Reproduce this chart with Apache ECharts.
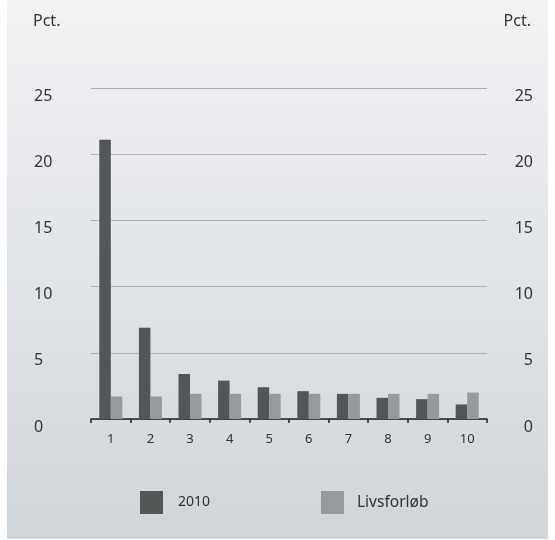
<!DOCTYPE html>
<html>
<head>
<meta charset="utf-8">
<script src="https://cdn.jsdelivr.net/npm/echarts@6/dist/echarts.min.js"></script>
<style>
html,body{margin:0;padding:0;background:#ffffff;}
#chart{width:555px;height:540px;}
</style>
</head>
<body>
<div id="chart"></div>
<script>
var categories = ['1','2','3','4','5','6','7','8','9','10'];
var series2010 = [21.1, 6.9, 3.4, 2.9, 2.4, 2.1, 1.9, 1.6, 1.5, 1.1];
var seriesLivsforlob = [1.7, 1.7, 1.9, 1.9, 1.9, 1.9, 1.9, 1.9, 1.9, 2.0];
var seriesNames = ['2010', 'Livsforløb'];
var yUnit = 'Pct.';

var FONT = '"Noto Sans", sans-serif';
var TXT = '#333333';

var chart = echarts.init(document.getElementById('chart'), null, {renderer:'canvas'});
var yLabelCommon = {
  fontFamily: FONT, fontSize: 16, color: TXT,
  verticalAlign: 'top'
};
chart.setOption({
  animation: false,
  graphic: [
    {type:'rect', z:-10, silent:true,
     shape:{x:7, y:0, width:541, height:539},
     style:{fill: new echarts.graphic.LinearGradient(0,0,0,1,[
       {offset:0, color:'#f2f3f5'},{offset:1, color:'#d0d5da'}])}},
    {type:'text', left:33, top:13, style:{text:yUnit, font:'16px "Noto Sans", sans-serif', fill:TXT}},
    {type:'text', right:24, top:13, style:{text:yUnit, font:'16px "Noto Sans", sans-serif', fill:TXT}}
  ],
  grid: {left:91, right:68, top:88, bottom:121},
  legend: [
    {data:[seriesNames[0]], left:135, top:486, itemWidth:23, itemHeight:23, icon:'rect',
     textStyle:{fontFamily:FONT, fontSize:14, color:TXT, padding:[0,0,0,10]}},
    {data:[seriesNames[1]], left:316, top:486, itemWidth:23, itemHeight:23, icon:'rect',
     textStyle:{fontFamily:FONT, fontSize:15.5, color:TXT, padding:[0,0,0,8]}}
  ],
  xAxis: {
    type:'category', data:categories, boundaryGap:true,
    axisLine:{show:true, lineStyle:{color:'#222222', width:1.5}},
    axisTick:{show:true, length:4, lineStyle:{color:'#222222', width:1.5}},
    axisLabel:{fontFamily:FONT, fontSize:13, color:TXT, margin:14},
    splitLine:{show:false}
  },
  yAxis: [
    {type:'value', position:'left', min:0, max:25, interval:5,
     axisLine:{show:false}, axisTick:{show:false},
     splitLine:{show:true, lineStyle:{color:'#adb1b4', width:1}},
     axisLabel: Object.assign({align:'left', margin:57}, yLabelCommon)},
    {type:'value', position:'right', min:0, max:25, interval:5,
     axisLine:{show:false}, axisTick:{show:false},
     splitLine:{show:false},
     axisLabel: Object.assign({align:'right', margin:46}, yLabelCommon)}
  ],
  series: [
    {name:seriesNames[0], type:'bar', data:series2010, barWidth:11.5, barGap:'0%',
     itemStyle:{color:'#525657'}},
    {name:seriesNames[1], type:'bar', data:seriesLivsforlob, barWidth:11.5, barGap:'0%',
     itemStyle:{color:'#969a9c'}}
  ]
});
</script>
</body>
</html>
